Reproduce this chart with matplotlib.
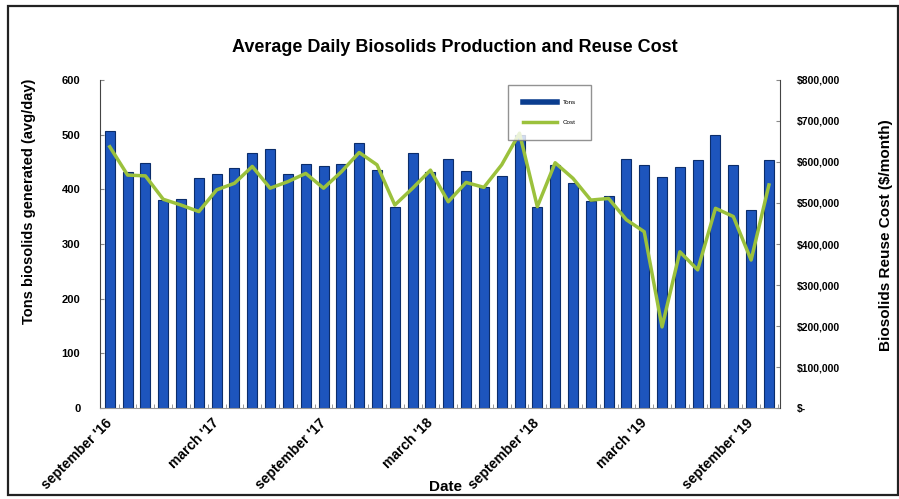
import numpy as np
import matplotlib
matplotlib.use("Agg")
import matplotlib.pyplot as plt
from matplotlib.patches import Rectangle
from matplotlib.ticker import FuncFormatter

plt.rcParams['font.family'] = ['Liberation Sans', 'DejaVu Sans']

# Monthly values, September 2016 through October 2019.
months = ["Sep 16", "Oct 16", "Nov 16", "Dec 16", "Jan 17", "Feb 17", "Mar 17", "Apr 17",
          "May 17", "Jun 17", "Jul 17", "Aug 17", "Sep 17", "Oct 17", "Nov 17", "Dec 17",
          "Jan 18", "Feb 18", "Mar 18", "Apr 18", "May 18", "Jun 18", "Jul 18", "Aug 18",
          "Sep 18", "Oct 18", "Nov 18", "Dec 18", "Jan 19", "Feb 19", "Mar 19", "Apr 19",
          "May 19", "Jun 19", "Jul 19", "Aug 19", "Sep 19", "Oct 19"]

# Tons generated per day (monthly average)
tons = [506, 432, 448, 381, 383, 420, 428, 439, 466, 473, 428, 447, 442, 447, 484, 436,
        368, 467, 432, 455, 433, 405, 424, 500, 368, 444, 412, 379, 388, 456, 444, 423,
        440, 453, 500, 444, 362, 453]

# Reuse cost, $/month
cost = [637000, 568000, 566000, 509000, 495000, 479000, 532000, 548000, 589000, 536000,
        552000, 572000, 536000, 576000, 623000, 593000, 495000, 536000, 580000, 503000,
        550000, 538000, 593000, 670000, 491000, 598000, 560000, 507000, 511000, 459000,
        430000, 198000, 381000, 337000, 487000, 467000, 361000, 544000]

xlabels = ["september '16", "march '17", "september '17", "march '18",
           "september '18", "march '19", "september '19"]

x = np.arange(len(months))

fig = plt.figure(figsize=(8.99, 4.99), dpi=100)
# outer frame of the scanned chart
fig.patches.append(Rectangle((0.009, 0.008), 0.99, 0.98, transform=fig.transFigure,
                             fill=False, edgecolor="#222222", linewidth=1.6))

ax = fig.add_axes([0.111, 0.182, 0.757, 0.658])
ax.bar(x, tons, width=0.56, color="#1d55bd", edgecolor="#0b2d6b", linewidth=0.8, label="Tons", zorder=2)
ax.set_xlim(-0.56, len(months) - 0.36)
ax.set_ylim(0, 600)
ax.set_yticks(range(0, 601, 100))
ax.spines["top"].set_visible(False)
ax.spines["left"].set_color("#444444")
ax.spines["bottom"].set_color("#999999")
ax.spines["right"].set_visible(False)
ax.tick_params(axis="y", direction="in", length=3, color="#888888", labelsize=8, pad=14)
for t in ax.get_yticklabels():
    t.set_fontweight("bold")

ax.set_xticks(x[::6])
ax.set_xticklabels(xlabels, rotation=45, ha="right", va="center", rotation_mode="anchor",
                   fontsize=10, fontweight="bold")
ax.set_xticks(x + 0.5, minor=True)
ax.tick_params(axis="x", which="major", length=0, pad=9)
ax.tick_params(axis="x", which="minor", length=3, direction="in", color="#888888")
ax.set_ylabel("Tons biosolids generated (avg/day)", fontsize=10.5, fontweight="bold")
ax.yaxis.set_label_coords(-0.093, 0.63)

ax2 = ax.twinx()
ax2.plot(x, cost, color="#9bc13c", linewidth=2.5, label="Cost", zorder=3)
ax2.set_ylim(0, 800000)
ax2.set_yticks(range(0, 800001, 100000))
ax2.yaxis.set_major_formatter(FuncFormatter(lambda v, p: "$-" if v == 0 else "${:,.0f}".format(v)))
ax2.spines["top"].set_visible(False)
ax2.spines["left"].set_visible(False)
ax2.spines["bottom"].set_visible(False)
ax2.spines["right"].set_color("#444444")
ax2.tick_params(axis="y", direction="in", length=3, color="#888888", labelsize=7.5, pad=12)
for t in ax2.get_yticklabels():
    t.set_fontweight("bold")
ax2.set_ylabel("Biosolids Reuse Cost ($/month)", fontsize=11, fontweight="bold")
ax2.yaxis.set_label_coords(1.145, 0.527)

h2, l2 = ax2.get_legend_handles_labels()
leg = ax2.legend([plt.Line2D([], [], color="#0b3d8f", linewidth=4), h2[0]], ["Tons", "Cost"],
                 loc="upper left", bbox_to_anchor=(0.6, 0.985), fontsize=4.5,
                 frameon=True, fancybox=False, edgecolor="#777777",
                 handlelength=5.5, labelspacing=2.3, borderpad=2.4, borderaxespad=0)
leg.get_frame().set_linewidth(1.0)

fig.text(0.506, 0.904, "Average Daily Biosolids Production and Reuse Cost",
         ha="center", va="center", fontsize=13, fontweight="bold")
fig.text(0.495, 0.024, "Date", ha="center", va="center", fontsize=11, fontweight="bold")

fig.savefig("out.png", dpi=100)
